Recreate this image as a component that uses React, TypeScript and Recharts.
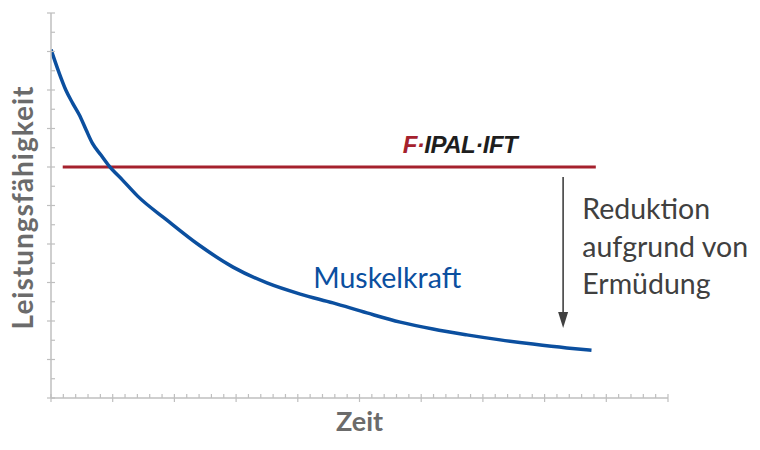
import React from 'react';
import { LineChart, Line, XAxis, YAxis, ReferenceLine, ReferenceDot } from 'recharts';

// Muskelkraft curve (Zeit, Leistungsfähigkeit)
const muskelX = [0, 0.13, 0.24, 0.35, 0.46, 0.57, 0.67, 0.81, 0.94, 1.16, 1.4, 1.88, 2.41, 2.95, 3.5, 4.04, 4.57, 5.12, 5.66, 6.19, 6.74, 7.28, 7.81, 8.36, 8.76];
const muskelY = [9.05, 8.45, 8.0, 7.66, 7.35, 6.96, 6.62, 6.31, 6.03, 5.66, 5.25, 4.62, 3.96, 3.4, 2.99, 2.7, 2.47, 2.21, 1.97, 1.79, 1.64, 1.51, 1.4, 1.3, 1.24];

// FIPALIFT constant level
const liftX = [0.19, 8.83];
const liftY = [6, 6];

const xTicks = [0, 0.2, 0.4, 0.6, 0.8, 1, 1.2, 1.4, 1.6, 1.8, 2, 2.2, 2.4, 2.6, 2.8, 3, 3.2, 3.4, 3.6, 3.8, 4, 4.2, 4.4, 4.6, 4.8, 5, 5.2, 5.4, 5.6, 5.8, 6, 6.2, 6.4, 6.6, 6.8, 7, 7.2, 7.4, 7.6, 7.8, 8, 8.2, 8.4, 8.6, 8.8, 9, 9.2, 9.4, 9.6, 9.8, 10];
const yTicks = [0, 0.5, 1, 1.5, 2, 2.5, 3, 3.5, 4, 4.5, 5, 5.5, 6, 6.5, 7, 7.5, 8, 8.5, 9, 9.5, 10];

const xLabel = 'Zeit';
const yLabel = 'Leistungsfähigkeit';
const curveLabel = 'Muskelkraft';
const noteLines = ['Reduktion', 'aufgrund von', 'Ermüdung'];

// annotation anchors in data units
const arrowX = 8.3;
const arrowTop = 5.74;
const arrowTip = 1.82;
const curveLabelPos = { x: 4.25, y: 2.86 };
const notePos = { x: 8.61, y: 4.64 };
const logoPos = { x: 5.7, y: 6.36 };

const muskelData = muskelX.map((x, i) => ({ x, y: muskelY[i] }));
const liftData = liftX.map((x, i) => ({ x, y: liftY[i] }));

const AXIS = '#bfbfbf';
const BLUE = '#0b4f9f';
const RED = '#a5212d';
const FONT = 'Lato, "Open Sans", sans-serif';

const isMajor = (v: number) => Math.abs(v - Math.round(v)) < 1e-6;

const XTick = (props: any) => {
  const { x, y, payload } = props;
  const major = isMajor(payload.value);
  return <line x1={x} x2={x} y1={y - 4} y2={major ? y + 4 : y} stroke={AXIS} strokeWidth={1.2} />;
};

const YTick = (props: any) => {
  const { x, y, payload } = props;
  const major = isMajor(payload.value);
  return <line x1={major ? x - 4 : x} x2={x + 4} y1={y} y2={y} stroke={AXIS} strokeWidth={1.2} />;
};

const YLabel = (props: any) => {
  const vb = props.viewBox || { x: 21, y: 13, width: 30, height: 385 };
  const cx = vb.x + vb.width - 18;
  const cy = vb.y + vb.height / 2 + 2;
  return (
    <text x={cx} y={cy} transform={`rotate(-90 ${cx} ${cy})`} textAnchor="middle" fill="#6b6b6b" fontSize={28} fontWeight={700} letterSpacing={1} fontFamily={FONT}>
      {yLabel}
    </text>
  );
};

const XLabel = (props: any) => {
  const vb = props.viewBox || { x: 51, y: 398, width: 617 };
  return (
    <text x={vb.x + vb.width / 2} y={vb.y + 33} textAnchor="middle" fill="#6b6b6b" fontSize={27} fontWeight={700} fontFamily={FONT}>
      {xLabel}
    </text>
  );
};

export default function App() {
  return (
    <div style={{ position: 'absolute', left: 0, top: 0, width: 760, height: 450, background: '#fff' }}>
      <LineChart width={760} height={450} margin={{ top: 13, right: 92, bottom: 22, left: 21 }}>
        <XAxis
          type="number"
          dataKey="x"
          domain={[0, 10]}
          ticks={xTicks}
          interval={0}
          height={30}
          tickLine={false}
          tickSize={0}
          tickMargin={0}
          tick={<XTick />}
          stroke={AXIS}
          strokeWidth={1.5}
          allowDataOverflow
          label={<XLabel />}
        />
        <YAxis
          type="number"
          domain={[0, 10]}
          ticks={yTicks}
          interval={0}
          width={30}
          tickLine={false}
          tickSize={0}
          tickMargin={0}
          tick={<YTick />}
          stroke={AXIS}
          strokeWidth={1.5}
          allowDataOverflow
          label={<YLabel />}
        />
        <Line data={liftData} dataKey="y" type="linear" stroke={RED} strokeWidth={3} dot={false} isAnimationActive={false} />
        <Line data={muskelData} dataKey="y" type="monotone" stroke={BLUE} strokeWidth={3.5} dot={false} isAnimationActive={false} />
        <ReferenceLine
          segment={[{ x: arrowX, y: arrowTop }, { x: arrowX, y: arrowTip + 0.3 }]}
          stroke="#404040"
          strokeWidth={1.6}
        />
        <ReferenceDot
          x={arrowX}
          y={arrowTip}
          r={1}
          shape={(p: any) => (
            <polygon points={`${p.cx - 5},${p.cy - 16} ${p.cx + 5},${p.cy - 16} ${p.cx},${p.cy}`} fill="#404040" />
          )}
        />
        <ReferenceDot
          x={curveLabelPos.x}
          y={curveLabelPos.y}
          r={1}
          shape={(p: any) => (
            <text x={p.cx} y={p.cy} fill={BLUE} fontSize={28.5} fontFamily={FONT}>
              {curveLabel}
            </text>
          )}
        />
        <ReferenceDot
          x={notePos.x}
          y={notePos.y}
          r={1}
          shape={(p: any) => (
            <text x={p.cx} y={p.cy} fill="#404040" fontSize={28.5} fontFamily={FONT}>
              {noteLines.map((t, i) => (
                <tspan key={i} x={p.cx} y={p.cy + i * 37.5}>
                  {t}
                </tspan>
              ))}
            </text>
          )}
        />
        <ReferenceDot
          x={logoPos.x}
          y={logoPos.y}
          r={1}
          shape={(p: any) => (
            <text x={p.cx} y={p.cy} fontSize={24} fontWeight={900} fontStyle="italic" fontFamily='"Liberation Sans", Arial, sans-serif' letterSpacing={-0.5}>
              <tspan fill={RED}>F</tspan>
              <tspan fill={RED}>·</tspan>
              <tspan fill="#1e1e1e">IPAL·IFT</tspan>
            </text>
          )}
        />
      </LineChart>
    </div>
  );
}
